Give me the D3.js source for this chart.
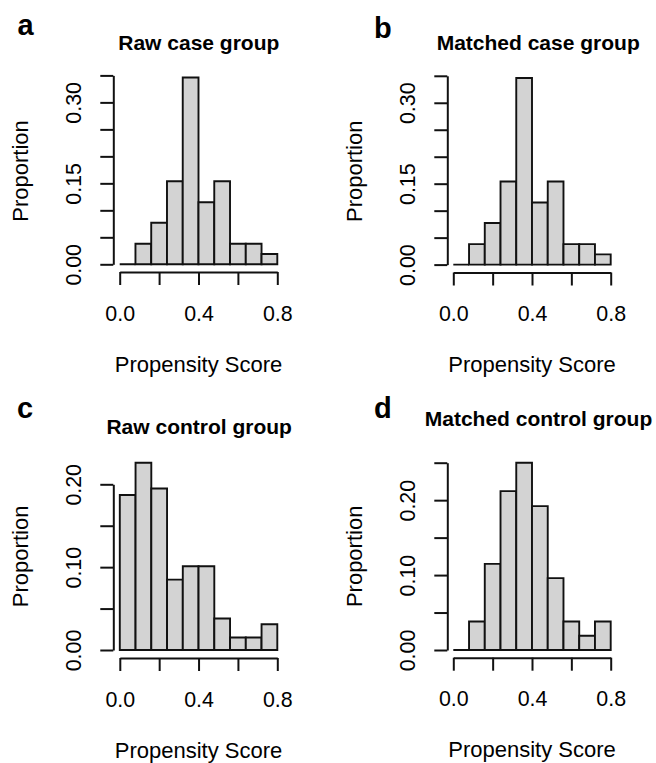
<!DOCTYPE html>
<html>
<head>
<meta charset="utf-8">
<script src="https://cdn.jsdelivr.net/npm/d3@7"></script>
<style>
  html, body { margin: 0; padding: 0; background: #fff; }
  svg { display: block; }
  text { font-family: "Liberation Sans", Arial, Helvetica, sans-serif; fill: #000; }
</style>
</head>
<body>
<svg id="chart" width="656" height="763"></svg>
<script>
// ---- data ----
const breaks = [0, 0.08, 0.16, 0.24, 0.32, 0.40, 0.48, 0.56, 0.64, 0.72, 0.80];
const rawCase        = [0, 0.038, 0.077, 0.154, 0.346, 0.115, 0.154, 0.038, 0.038, 0.019];
const matchedCase    = [0, 0.038, 0.077, 0.154, 0.346, 0.115, 0.154, 0.038, 0.038, 0.019];
const rawControl     = [0.187, 0.226, 0.195, 0.085, 0.101, 0.101, 0.038, 0.015, 0.015, 0.031];
const matchedControl = [0, 0.038, 0.115, 0.212, 0.250, 0.192, 0.096, 0.038, 0.019, 0.038];

const xTicks = [0, 0.2, 0.4, 0.6, 0.8];
const xTickLabels = ["0.0", "", "0.4", "", "0.8"];
const yTicksCase = [0, 0.05, 0.10, 0.15, 0.20, 0.25, 0.30, 0.35];
const yTickLabelsCase = ["0.00", "", "", "0.15", "", "", "0.30", ""];
const yTicksRawControl = [0, 0.05, 0.10, 0.15, 0.20];
const yTickLabelsRawControl = ["0.00", "", "0.10", "", "0.20"];
const yTicksMatchedControl = [0, 0.05, 0.10, 0.15, 0.20, 0.25];
const yTickLabelsMatchedControl = ["0.00", "", "0.10", "", "0.20", ""];

const panelLetters = ["a", "b", "c", "d"];
const panelTitles = ["Raw case group", "Matched case group", "Raw control group", "Matched control group"];
const xAxisTitle = "Propensity Score";
const yAxisTitle = "Proportion";

// ---- layout (pixels) ----
const panels = [
  { letter: panelLetters[0], title: panelTitles[0], values: rawCase, yTicks: yTicksCase, yLabels: yTickLabelsCase,
    yAxisX: 113.3, xAxisY: 272, x0: 119.7, x1: 277.3, y0: 264.3, y1: 75.4,
    letterX: 17.5, letterY: 34.5, titleX: 198.8, titleY: 50 },
  { letter: panelLetters[1], title: panelTitles[1], values: matchedCase, yTicks: yTicksCase, yLabels: yTickLabelsCase,
    yAxisX: 447.3, xAxisY: 272.5, x0: 453.3, x1: 610.7, y0: 264.6, y1: 75.8,
    letterX: 374, letterY: 37.5, titleX: 538.2, titleY: 50 },
  { letter: panelLetters[2], title: panelTitles[2], values: rawControl, yTicks: yTicksRawControl, yLabels: yTickLabelsRawControl,
    yAxisX: 113.3, xAxisY: 658, x0: 119.8, x1: 277.3, y0: 650, y1: 484.3,
    letterX: 17, letterY: 417.5, titleX: 199.2, titleY: 434.3 },
  { letter: panelLetters[3], title: panelTitles[3], values: matchedControl, yTicks: yTicksMatchedControl, yLabels: yTickLabelsMatchedControl,
    yAxisX: 447.3, xAxisY: 657.7, x0: 453.3, x1: 610.7, y0: 650, y1: 462.7,
    letterX: 374, letterY: 417.5, titleX: 538.5, titleY: 425.7 }
];

const svg = d3.select("#chart");
const FS_TICK = 21.4;
const FS_LAB = 22;
const FS_TITLE = 21;

panels.forEach(p => {
  const g = svg.append("g");
  const x = d3.scaleLinear().domain([breaks[0], breaks[breaks.length - 1]]).range([p.x0, p.x1]);
  const y = d3.scaleLinear().domain([0, p.yTicks[p.yTicks.length - 1]]).range([p.y0, p.y1]);

  // bars
  g.selectAll("path.bar").data(p.values).join("path")
    .attr("class", "bar")
    .attr("d", (v, i) => {
      const xa = x(breaks[i]), xb = x(breaks[i + 1]), ya = y(0), yb = y(v);
      return `M${xa},${ya}V${yb}H${xb}V${ya}Z`;
    })
    .attr("fill", "#d3d3d3")
    .attr("stroke", "#111")
    .attr("stroke-width", 1.9)
    .attr("stroke-linejoin", "miter");

  // x axis
  const xAxis = d3.axisBottom(x).tickValues(xTicks)
    .tickFormat((d, i) => xTickLabels[i]).tickSize(13).tickSizeOuter(0);
  const gx = g.append("g").attr("transform", `translate(0,${p.xAxisY})`).call(xAxis);
  gx.selectAll("path, line").attr("stroke", "#111").attr("stroke-width", 2);
  gx.selectAll("text").attr("y", 48.5).attr("dy", 0)
    .attr("font-size", FS_TICK).attr("fill", "#000");
  gx.attr("font-family", null).attr("font-size", null);

  // y axis
  const yAxis = d3.axisLeft(y).tickValues(p.yTicks)
    .tickFormat((d, i) => p.yLabels[i]).tickSize(13).tickSizeOuter(0);
  const gy = g.append("g").attr("transform", `translate(${p.yAxisX},0)`).call(yAxis);
  gy.selectAll("path, line").attr("stroke", "#111").attr("stroke-width", 2);
  gy.selectAll("text")
    .attr("transform", "rotate(-90)")
    .attr("x", 0).attr("y", -32).attr("dy", 0)
    .attr("text-anchor", "middle")
    .attr("font-size", FS_TICK).attr("fill", "#000");
  gy.attr("font-family", null).attr("font-size", null);

  // axis titles
  g.append("text")
    .attr("x", x(0.4)).attr("y", p.xAxisY + 99.5)
    .attr("text-anchor", "middle").attr("font-size", FS_LAB)
    .text(xAxisTitle);
  const m = d3.max(p.values);
  const yMid = (y(-m * 0.04) + y(m * 1.04)) / 2;
  g.append("text")
    .attr("transform", `translate(${p.yAxisX - 85.3},${yMid}) rotate(-90)`)
    .attr("text-anchor", "middle").attr("font-size", FS_LAB)
    .text(yAxisTitle);

  // title
  g.append("text")
    .attr("x", p.titleX).attr("y", p.titleY)
    .attr("text-anchor", "middle").attr("font-size", FS_TITLE).attr("font-weight", "bold")
    .text(p.title);

  // panel letter
  g.append("text")
    .attr("x", p.letterX).attr("y", p.letterY)
    .attr("font-size", 29).attr("font-weight", "bold")
    .text(p.letter);
});
</script>
</body>
</html>
